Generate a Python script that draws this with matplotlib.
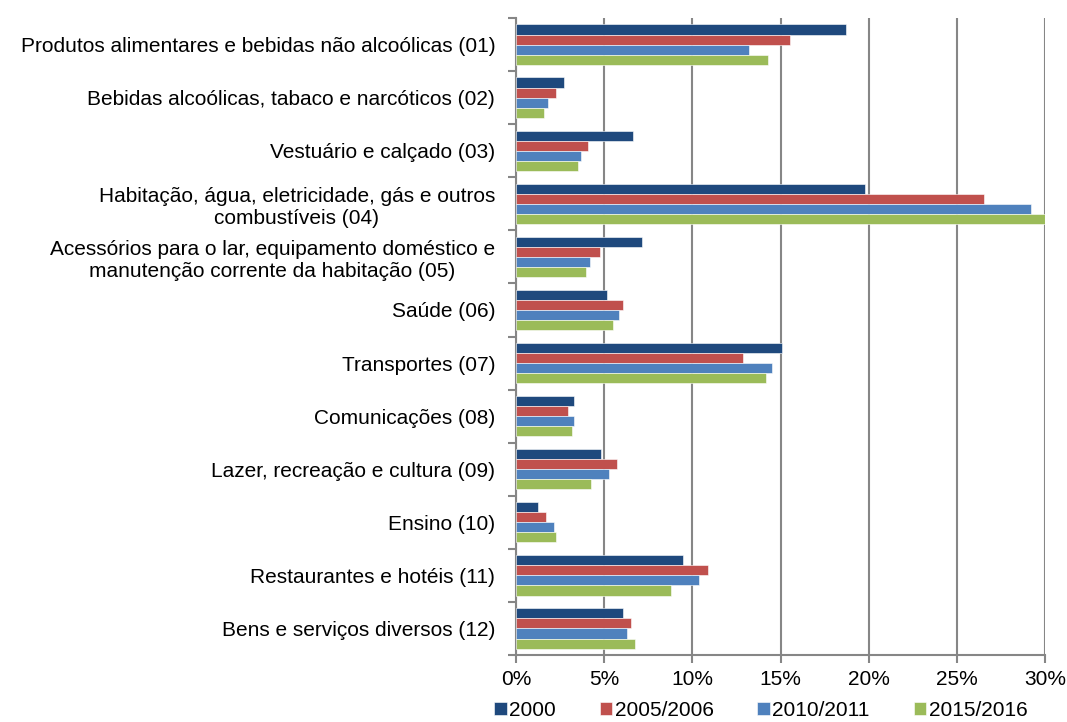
import numpy as np
import matplotlib.pyplot as plt
from matplotlib.ticker import PercentFormatter, FixedLocator

plt.rcParams['font.family'] = ['Liberation Sans', 'DejaVu Sans']

# categorias (COICOP)
categorias = [
    "Produtos alimentares e bebidas não alcoólicas (01)",
    "Bebidas alcoólicas, tabaco e narcóticos (02)",
    "Vestuário e calçado (03)",
    "Habitação, água, eletricidade, gás e outros\ncombustíveis (04)",
    "Acessórios para o lar, equipamento doméstico e\nmanutenção corrente da habitação (05)",
    "Saúde (06)",
    "Transportes (07)",
    "Comunicações (08)",
    "Lazer, recreação e cultura (09)",
    "Ensino (10)",
    "Restaurantes e hotéis (11)",
    "Bens e serviços diversos (12)",
]

anos = ["2000", "2005/2006", "2010/2011", "2015/2016"]

# percentagens
v2000 = [18.7, 2.74, 6.63, 19.8, 7.16, 5.14, 15.07, 3.31, 4.80, 1.26, 9.49, 6.06]
v2005 = [15.52, 2.29, 4.11, 26.55, 4.77, 6.06, 12.90, 2.97, 5.71, 1.71, 10.86, 6.51]
v2010 = [13.24, 1.83, 3.66, 29.2, 4.20, 5.83, 14.50, 3.31, 5.26, 2.17, 10.40, 6.29]
v2015 = [14.29, 1.60, 3.54, 30.2, 3.98, 5.49, 14.15, 3.20, 4.23, 2.29, 8.80, 6.74]

cores = ['#1F497D', '#C0504D', '#4F81BD', '#9BBB59']
series = [v2000, v2005, v2010, v2015]

fig = plt.figure(figsize=(10.67, 7.22), dpi=100)
ax = fig.add_axes([0.4836, 0.0928, 0.9794 - 0.4836, 0.975 - 0.0928])

y = np.arange(len(categorias))
h = 0.19
for i, (vals, cor, ano) in enumerate(zip(series, cores, anos)):
    ax.barh(y + (i - 1.5) * h, vals, height=h, color=cor, label=ano,
            edgecolor='white', linewidth=0.4, zorder=3)

ax.set_ylim(len(categorias) - 0.5, -0.5)
ax.set_xlim(0, 30)
ax.xaxis.set_major_locator(FixedLocator(np.arange(0, 31, 5)))
ax.xaxis.set_major_formatter(PercentFormatter(decimals=0))
ax.grid(axis='x', color='#868686', linewidth=1.5, zorder=0)

ax.set_yticks(y)
ax.set_yticklabels(categorias, fontsize=15, ha='right', multialignment='center',
                   linespacing=1.2)
ax.yaxis.set_minor_locator(FixedLocator(np.arange(-0.5, len(categorias), 1)))
ax.tick_params(axis='y', which='major', length=0, pad=15)
ax.tick_params(axis='y', which='minor', length=6, width=1.5, color='#868686')
ax.tick_params(axis='x', length=6, width=1.5, color='#868686', labelsize=15, pad=5)

for s in ['top', 'right']:
    ax.spines[s].set_visible(False)
for s in ['left', 'bottom']:
    ax.spines[s].set_color('#868686')
    ax.spines[s].set_linewidth(1.5)

fig.legend(loc='center', ncol=4, bbox_to_anchor=(0.713, 0.016),
           frameon=False, fontsize=15, handlelength=0.6, handleheight=0.6,
           handletextpad=0.12, columnspacing=2.1, borderpad=0)

fig.savefig('out.png', dpi=100)
